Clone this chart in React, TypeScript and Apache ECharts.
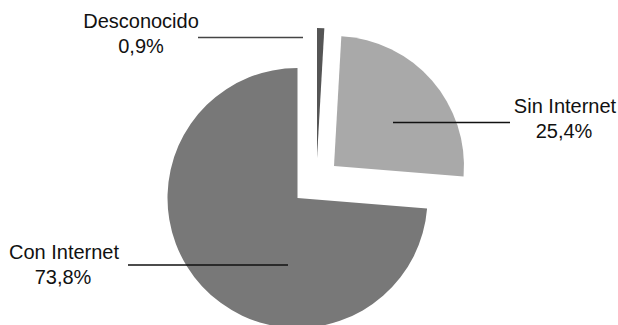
import React, { useEffect, useRef } from "react";
import * as echarts from "echarts";

const categories = ["Desconocido", "Sin Internet", "Con Internet"];
const values = [0.9, 25.4, 73.8];
const valueLabels = ["0,9%", "25,4%", "73,8%"];
const colors = ["#555555", "#a9a9a9", "#787878"];
// exploded centers of each slice (px)
const centers: [number, number][] = [
  [317, 158],
  [334, 166],
  [297.5, 198],
];
const RADIUS = 130;

const FONT = "'Liberation Sans', Arial, sans-serif";

export default function App() {
  const ref = useRef<HTMLDivElement>(null);
  useEffect(() => {
    if (!ref.current) return;
    const chart = echarts.init(ref.current, null, { renderer: "svg" });
    const series = categories.map((_, si) => ({
      type: "pie",
      center: centers[si],
      radius: RADIUS,
      startAngle: 90,
      clockwise: true,
      silent: true,
      animation: false,
      z: 1,
      label: { show: false },
      labelLine: { show: false },
      emphasis: { disabled: true },
      itemStyle: { borderWidth: 0 },
      data: categories.map((c, i) => ({
        name: c,
        value: values[i],
        itemStyle: { color: i === si ? colors[i] : "rgba(0,0,0,0)" },
      })),
    }));

    const textEl = (x: number, y: number, t: string) => ({
      type: "text",
      x,
      y,
      z: 100,
      silent: true,
      style: {
        text: t,
        fill: "#111",
        font: `20px ${FONT}`,
        align: "center",
        verticalAlign: "middle",
      },
    });
    const lineEl = (x1: number, x2: number, y: number, c: string) => ({
      type: "line",
      z: 100,
      silent: true,
      shape: { x1, y1: y, x2, y2: y },
      style: { stroke: c, lineWidth: 1.6 },
    });

    chart.setOption({
      animation: false,
      backgroundColor: "#ffffff",
      series,
      graphic: [
        textEl(141, 21, categories[0]),
        textEl(141, 46, valueLabels[0]),
        lineEl(198, 303, 37.5, "#444"),
        textEl(565, 106, categories[1]),
        textEl(564, 131, valueLabels[1]),
        lineEl(393, 510, 122.5, "#111"),
        textEl(64, 252, categories[2]),
        textEl(63, 276.5, valueLabels[2]),
        lineEl(128, 288, 265, "#111"),
      ],
    });
    return () => chart.dispose();
  }, []);
  return (
    <div
      ref={ref}
      style={{ position: "fixed", left: 0, top: 0, width: 618, height: 325 }}
    />
  );
}
